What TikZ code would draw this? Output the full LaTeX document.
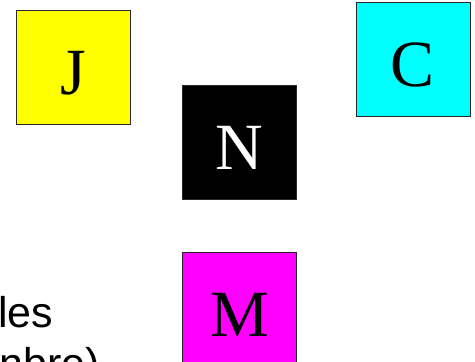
\documentclass[tikz,border=0pt]{standalone}
\usepackage{fontspec}
\setmainfont{Liberation Serif}
\setsansfont{Liberation Sans}
\usetikzlibrary{positioning}
\definecolor{sqYellow}{RGB}{255, 255, 0}
\definecolor{sqCyan}{RGB}{0, 255, 255}
\definecolor{sqMagenta}{RGB}{255, 0, 255}
\definecolor{sqEdge}{RGB}{40, 40, 40}

\begin{document}
\begin{tikzpicture}[x=1pt, y=-1pt,
    square/.style={rectangle, draw=sqEdge, line width=0.8pt, minimum width=114pt, minimum height=114pt, inner sep=0pt, text height=54pt, text depth=0pt, font=\fontsize{66}{66}\selectfont},
    caption/.style={anchor=base west, inner sep=0pt, font=\sffamily\fontsize{43}{51}\selectfont}
  ]
    \useasboundingbox (0,0) rectangle (475,362);
    \clip (0,0) rectangle (475,362);

    \node[square, fill=sqYellow] (jaune) at (73,67) {J};
    \node[square, fill=sqCyan] (cyan) at (413,59.5) {C};
    \node[square, fill=black, text=white] (noir) at (239.5,142) {N};
    \node[square, fill=sqMagenta] (magenta) at (239.5,309) {M};

    \node[caption] (les) at (-2,327) {les};
    \node[caption] (nbre) at (-1,378) {nbre)};
  \end{tikzpicture}
\end{document}
